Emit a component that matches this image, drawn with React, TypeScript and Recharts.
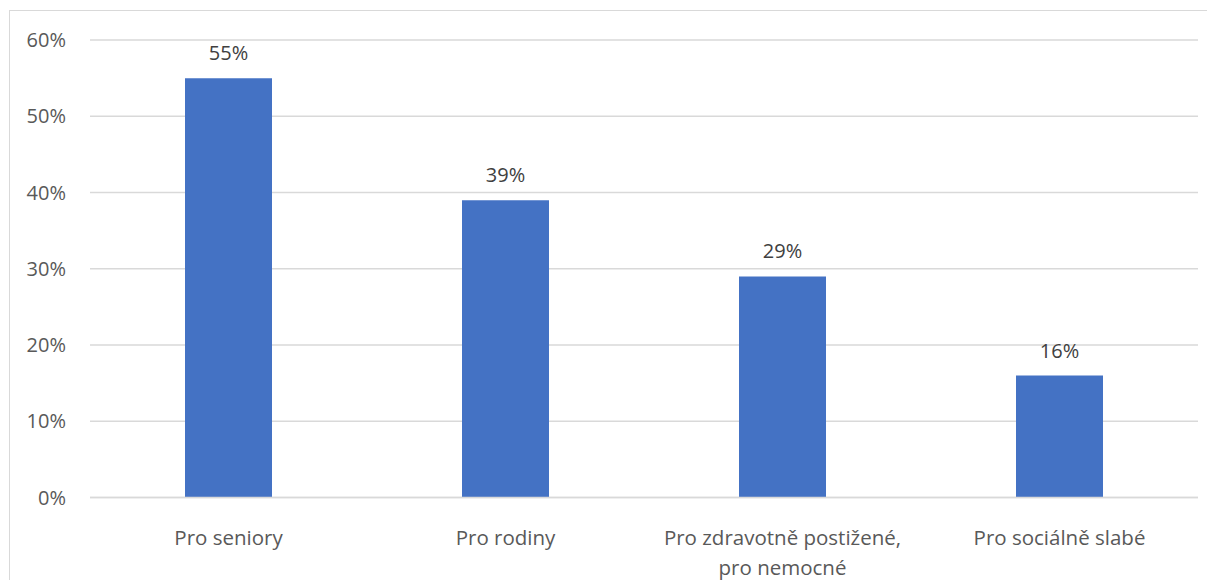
import React from "react";
import { BarChart, Bar, XAxis, YAxis, CartesianGrid, LabelList } from "recharts";

const categories = [
  "Pro seniory",
  "Pro rodiny",
  "Pro zdravotně postižené, pro nemocné",
  "Pro sociálně slabé",
];
const shares = [55, 39, 29, 16];
const yTicks = [0, 10, 20, 30, 40, 50, 60];

// label lines as wrapped in the original
const labelLines: { [key: string]: string[] } = {
  "Pro zdravotně postižené, pro nemocné": ["Pro zdravotně postižené,", "pro nemocné"],
};

const data = categories.map((name, i) => ({ name, value: shares[i] }));

const FONT = "'Open Sans', Lato, sans-serif";

const CategoryTick: React.FC<any> = ({ x, y, payload }) => {
  const lines = labelLines[payload.value] || [payload.value];
  return (
    <text x={x} y={y + 39} textAnchor="middle" fill="#595959" fontSize={20.5} fontFamily={FONT}>
      {lines.map((line, i) => (
        <tspan key={i} x={x} dy={i === 0 ? 0 : 30}>
          {line}
        </tspan>
      ))}
    </text>
  );
};

const ValueLabel: React.FC<any> = ({ x, y, width, value }) => (
  <text
    x={x + width / 2}
    y={y - 18}
    textAnchor="middle"
    fill="#404040"
    fontSize={20}
    fontFamily={FONT}
  >
    {value}%
  </text>
);

export default function App() {
  return (
    <div style={{ position: "relative", width: 1207, height: 572 }}>
      <div
        style={{
          position: "absolute",
          left: 1,
          top: 2,
          width: 1220,
          height: 590,
          border: "1px solid #d9d9d9",
          boxSizing: "border-box",
        }}
      />
      <BarChart
        width={1207}
        height={572}
        data={data}
        margin={{ top: 32, right: 17, left: 0, bottom: 0 }}
        barSize={87}
        style={{ position: "absolute", left: 0, top: 0 }}
      >
        <CartesianGrid vertical={false} stroke="#d9d9d9" strokeWidth={1.3} />
        <XAxis
          dataKey="name"
          height={82.5}
          axisLine={{ stroke: "#d9d9d9", strokeWidth: 1.3 }}
          tickLine={false}
          interval={0}
          tick={<CategoryTick />}
        />
        <YAxis
          width={82}
          domain={[0, 60]}
          ticks={yTicks}
          axisLine={false}
          tickLine={false}
          tickSize={0}
          tickMargin={24}
          tickFormatter={(v) => `${v}%`}
          tick={{ fill: "#595959", fontSize: 20, fontFamily: FONT }}
        />
        <Bar dataKey="value" fill="#4472c4" isAnimationActive={false}>
          <LabelList dataKey="value" content={<ValueLabel />} />
        </Bar>
      </BarChart>
    </div>
  );
}
